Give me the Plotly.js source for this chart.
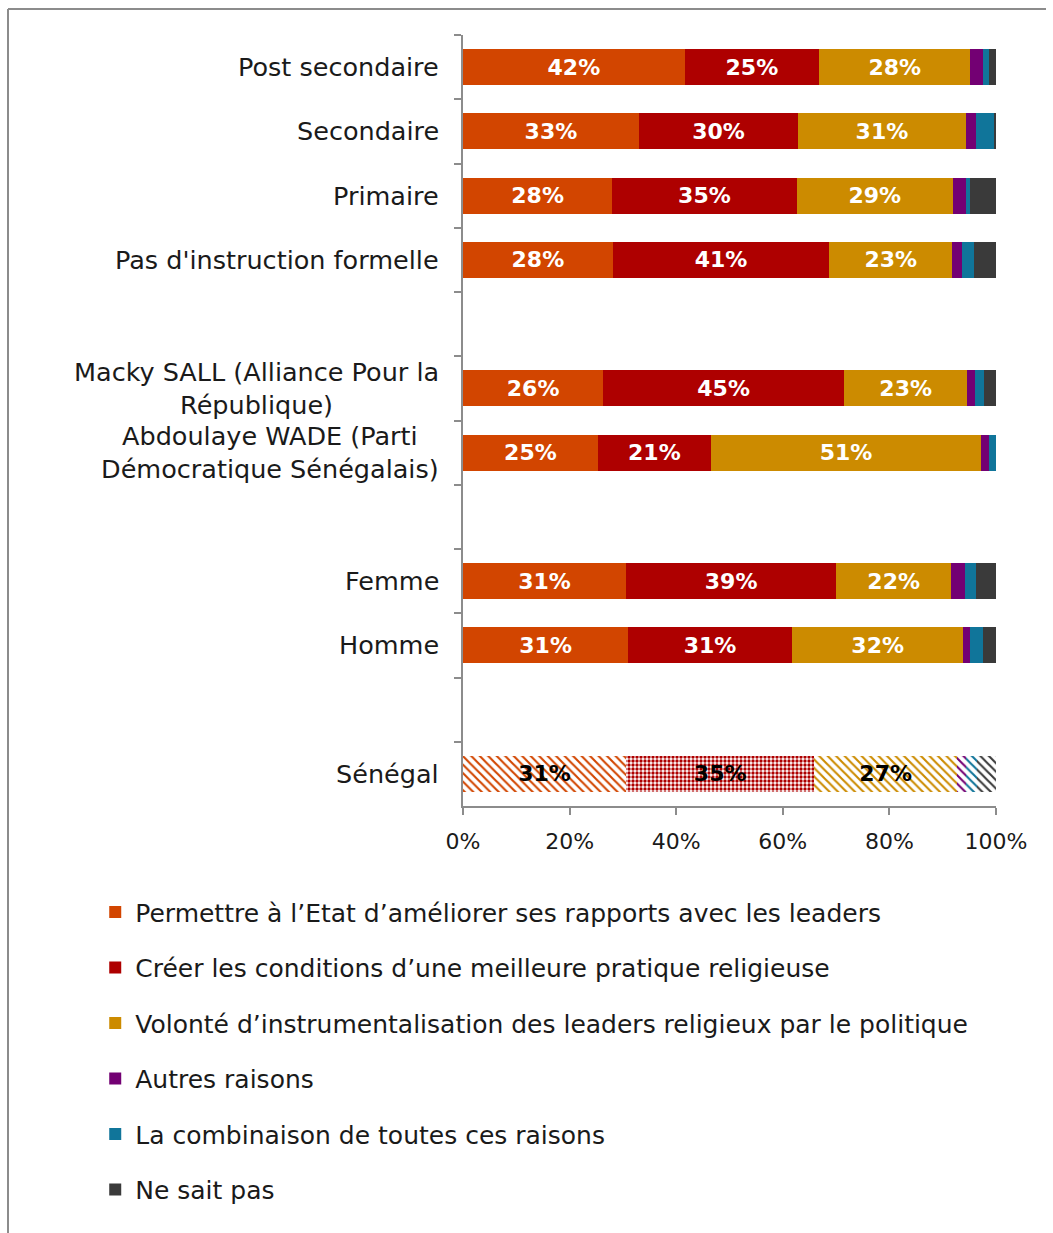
<!DOCTYPE html>
<html>
<head>
<meta charset="utf-8">
<script src="https://cdn.plot.ly/plotly-3.0.1.min.js"></script>
<style>
html,body{margin:0;padding:0;background:#fff;}
#chart{width:1053px;height:1233px;}
</style>
</head>
<body>
<div id="chart"></div>
<script>
// Categories, top to bottom (blank strings are spacer rows)
var categories = [
  "Post secondaire",
  "Secondaire",
  "Primaire",
  "Pas d'instruction formelle",
  " ",
  "Macky SALL (Alliance Pour la<br>République)",
  "Abdoulaye WADE (Parti<br>Démocratique Sénégalais)",
  "  ",
  "Femme",
  "Homme",
  "   ",
  "Sénégal"
];

var seriesNames = [
  "Permettre à l’Etat d’améliorer ses rapports avec les leaders",
  "Créer les conditions d’une meilleure pratique religieuse",
  "Volonté d’instrumentalisation des leaders religieux par le politique",
  "Autres raisons",
  "La combinaison de toutes ces raisons",
  "Ne sait pas"
];

var permettre   = [41.6, 33.0, 28.0, 28.1, null, 26.3, 25.3, null, 30.6, 31.0, null, 30.6];
var creer       = [25.2, 29.9, 34.6, 40.6, null, 45.2, 21.2, null, 39.4, 30.7, null, 35.3];
var volonte     = [28.4, 31.4, 29.3, 23.1, null, 23.1, 50.7, null, 21.6, 32.2, null, 26.8];
var autres      = [2.4,  2.0,  2.4,  1.8,  null, 1.5,  1.4,  null, 2.6,  1.2,  null, 1.6];
var combinaison = [1.0,  3.4,  0.8,  2.3,  null, 1.6,  1.4,  null, 2.0,  2.5,  null, 2.2];
var nsp         = [1.4,  0.3,  4.9,  4.1,  null, 2.3,  0.0,  null, 3.8,  2.4,  null, 3.5];

var xTickVals = [0, 20, 40, 60, 80, 100];
var xTickText = ["0%", "20%", "40%", "60%", "80%", "100%"];

var colors = ["#D24500", "#AE0000", "#CC8B00", "#730073", "#10759A", "#3A3A3A"];
var patternShapes = ["\\", ".", "\\", "\\", "\\", "\\"];
var FONT = "DejaVu Sans";

var allSeries = [permettre, creer, volonte, autres, combinaison, nsp];
var highlight = "Sénégal";

var traces = allSeries.map(function(vals, i){
  var shapes = categories.map(function(c){ return c === highlight ? patternShapes[i] : ""; });
  var bg = categories.map(function(c){ return c === highlight ? "#ffffff" : colors[i]; });
  var tcol = categories.map(function(c){ return c === highlight ? "#000000" : "#ffffff"; });
  var t = {
    type: "bar",
    orientation: "h",
    name: seriesNames[i],
    y: categories,
    x: vals,
    legendgroup: "g" + i,
    marker: {
      color: colors[i],
      line: {width: 0},
      pattern: {
        shape: shapes,
        fillmode: "replace",
        bgcolor: bg,
        fgcolor: colors[i],
        size: i === 1 ? 4 : 6,
        solidity: i === 1 ? 0.55 : 0.35
      }
    },
    hoverinfo: "skip"
  };
  if (i < 3) {
    t.texttemplate = "%{x:.0f}%";
    t.textposition = "inside";
    t.insidetextanchor = "middle";
    t.textangle = 0;
    t.constraintext = "none";
    t.insidetextfont = {family: FONT, size: 22, color: tcol, weight: "bold"};
  } else {
    t.textposition = "none";
  }
  return t;
});

var annotations = categories.filter(function(c){ return c.trim() !== ""; }).map(function(c){
  return {
    xref: "paper", yref: "y", x: 0, y: c,
    xanchor: "right", yanchor: "middle", xshift: -22,
    text: c, showarrow: false, align: "center",
    font: {family: FONT, size: 25.5, color: "#1a1a1a"}
  };
});

var G = "#8c8c8c";
var layout = {
  width: 1053, height: 1233,
  margin: {l: 463, r: 57, t: 35, b: 427},
  barmode: "stack",
  bargap: 0.44,
  paper_bgcolor: "#ffffff",
  plot_bgcolor: "#ffffff",
  font: {family: FONT, size: 22, color: "#1a1a1a"},
  showlegend: true,
  xaxis: {
    range: [0, 100],
    tickmode: "array",
    tickvals: xTickVals,
    ticktext: xTickText,
    ticks: "outside", ticklen: 7, tickcolor: G, tickwidth: 2,
    showline: true, linecolor: G, linewidth: 2,
    showgrid: false, zeroline: false,
    tickfont: {family: FONT, size: 22, color: "#1a1a1a"},
    ticklabelstandoff: 8,
    fixedrange: true
  },
  yaxis: {
    type: "category",
    categoryorder: "array",
    categoryarray: categories,
    autorange: "reversed",
    showticklabels: false,
    ticks: "outside", ticklen: 7, tickcolor: G, tickwidth: 2,
    tickson: "boundaries",
    showline: true, linecolor: G, linewidth: 2,
    showgrid: false, zeroline: false,
    fixedrange: true
  },
  legend: {
    x: -0.69, xanchor: "left",
    y: -0.108, yanchor: "top",
    orientation: "v",
    traceorder: "grouped",
    tracegroupgap: 20,
    itemwidth: 30,
    font: {family: FONT, size: 25, color: "#1a1a1a"},
    bgcolor: "rgba(0,0,0,0)"
  },
  annotations: annotations,
  shapes: [
    {type: "line", xref: "paper", yref: "paper", x0: (8-463)/533, x1: (8-463)/533, y0: (806-9)/771, y1: (806-1240)/771, line: {color: G, width: 2}},
    {type: "line", xref: "paper", yref: "paper", x0: (8-463)/533, x1: (1046-463)/533, y0: (806-9)/771, y1: (806-9)/771, line: {color: G, width: 2}}
  ]
};

Plotly.newPlot("chart", traces, layout, {displayModeBar: false, staticPlot: true});
</script>
</body>
</html>
